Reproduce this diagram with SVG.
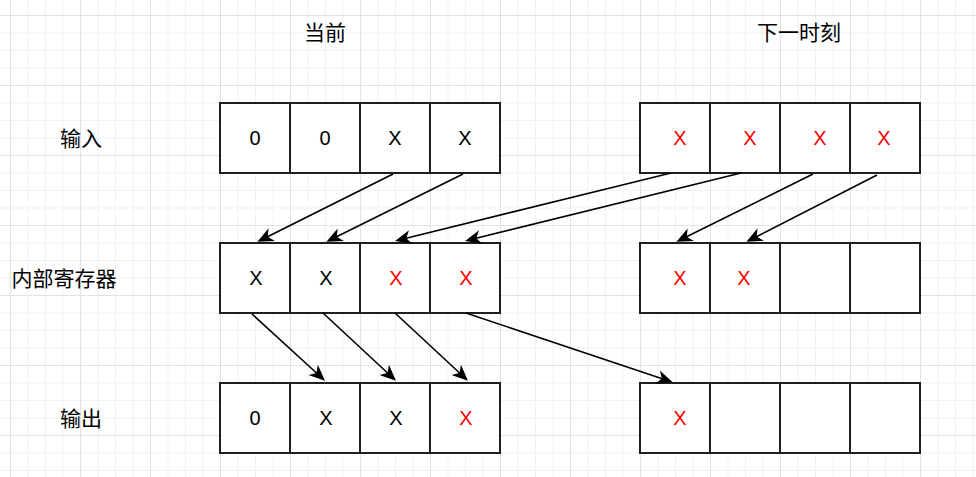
<svg xmlns="http://www.w3.org/2000/svg" width="976" height="477" viewBox="0 0 976 477">
<style>
.cell{fill:#ffffff;stroke:#1f1f1f;stroke-width:2}
.t{font-family:"Liberation Sans","Noto Sans CJK SC",sans-serif;font-size:20px;fill:#000000;text-anchor:middle;dominant-baseline:central}
.r{fill:#ff0000}
.lab{font-family:"Liberation Sans","Noto Sans CJK SC",sans-serif;font-size:21px;fill:#000000;text-anchor:middle;dominant-baseline:central}
.edge{stroke:#000000;stroke-width:1.6;fill:none;marker-end:url(#ah)}
</style>
<defs>
<pattern id="minor" x="10" y="15" width="17.5" height="17.5" patternUnits="userSpaceOnUse">
<path d="M0.5,0 V17.5 M0,0.5 H17.5" stroke="#f1f1f1" stroke-width="1" fill="none"/>
</pattern>
<pattern id="major" x="10" y="15" width="70" height="70" patternUnits="userSpaceOnUse">
<path d="M0.5,0 V70 M0,0.5 H70" stroke="#e2e2e2" stroke-width="1" fill="none"/>
</pattern>
<marker id="ah" markerUnits="userSpaceOnUse" markerWidth="17" markerHeight="15" viewBox="0 0 17 15" refX="12" refY="7.5" orient="auto">
<path d="M16,7.5 L0,0.5 L4.5,7.5 L0,14.5 Z" fill="#000000"/>
</marker>
</defs>
<rect width="976" height="477" fill="#ffffff"/>
<rect width="976" height="477" fill="url(#minor)"/>
<rect width="976" height="477" fill="url(#major)"/>

<g id="headers">
<text class="lab" x="325" y="32">当前</text>
<text class="lab" x="799" y="32">下一时刻</text>
</g>
<g id="row-labels">
<text class="lab" x="81" y="138">输入</text>
<text class="lab" x="64" y="278">内部寄存器</text>
<text class="lab" x="81" y="418">输出</text>
</g>

<g id="input-now">
<rect class="cell" x="220" y="103" width="70" height="70"/><text class="t" x="255" y="138">0</text>
<rect class="cell" x="290" y="103" width="70" height="70"/><text class="t" x="325" y="138">0</text>
<rect class="cell" x="360" y="103" width="70" height="70"/><text class="t" x="395" y="138">X</text>
<rect class="cell" x="430" y="103" width="70" height="70"/><text class="t" x="465" y="138">X</text>
</g>
<g id="input-next">
<rect class="cell" x="640" y="103" width="70" height="70"/><text class="t r" x="680" y="138">X</text>
<rect class="cell" x="710" y="103" width="70" height="70"/><text class="t r" x="750" y="138">X</text>
<rect class="cell" x="780" y="103" width="70" height="70"/><text class="t r" x="820" y="138">X</text>
<rect class="cell" x="850" y="103" width="70" height="70"/><text class="t r" x="884" y="138">X</text>
</g>

<g id="reg-now">
<rect class="cell" x="220" y="243" width="70" height="70"/><text class="t" x="256" y="278">X</text>
<rect class="cell" x="290" y="243" width="70" height="70"/><text class="t" x="326" y="278">X</text>
<rect class="cell" x="360" y="243" width="70" height="70"/><text class="t r" x="396" y="278">X</text>
<rect class="cell" x="430" y="243" width="70" height="70"/><text class="t r" x="466" y="278">X</text>
</g>
<g id="reg-next">
<rect class="cell" x="640" y="243" width="70" height="70"/><text class="t r" x="680" y="278">X</text>
<rect class="cell" x="710" y="243" width="70" height="70"/><text class="t r" x="744" y="278">X</text>
<rect class="cell" x="780" y="243" width="70" height="70"/>
<rect class="cell" x="850" y="243" width="70" height="70"/>
</g>

<g id="out-now">
<rect class="cell" x="220" y="383" width="70" height="70"/><text class="t" x="255" y="418">0</text>
<rect class="cell" x="290" y="383" width="70" height="70"/><text class="t" x="326" y="418">X</text>
<rect class="cell" x="360" y="383" width="70" height="70"/><text class="t" x="396" y="418">X</text>
<rect class="cell" x="430" y="383" width="70" height="70"/><text class="t r" x="466" y="418">X</text>
</g>
<g id="out-next">
<rect class="cell" x="640" y="383" width="70" height="70"/><text class="t r" x="680" y="418">X</text>
<rect class="cell" x="710" y="383" width="70" height="70"/>
<rect class="cell" x="780" y="383" width="70" height="70"/>
<rect class="cell" x="850" y="383" width="70" height="70"/>
</g>

<g id="connectors">
<line class="edge" x1="393" y1="174" x2="261" y2="240"/>
<line class="edge" x1="463" y1="174" x2="330" y2="240"/>
<line class="edge" x1="671" y1="173" x2="399" y2="240"/>
<line class="edge" x1="741" y1="173" x2="469" y2="240"/>
<line class="edge" x1="813" y1="174" x2="680" y2="240"/>
<line class="edge" x1="877" y1="175" x2="750" y2="240"/>
<line class="edge" x1="252" y1="314" x2="322" y2="378"/>
<line class="edge" x1="323" y1="313" x2="393" y2="378"/>
<line class="edge" x1="395" y1="313" x2="465" y2="378"/>
<line class="edge" x1="466" y1="313" x2="669" y2="381"/>
</g>
</svg>
